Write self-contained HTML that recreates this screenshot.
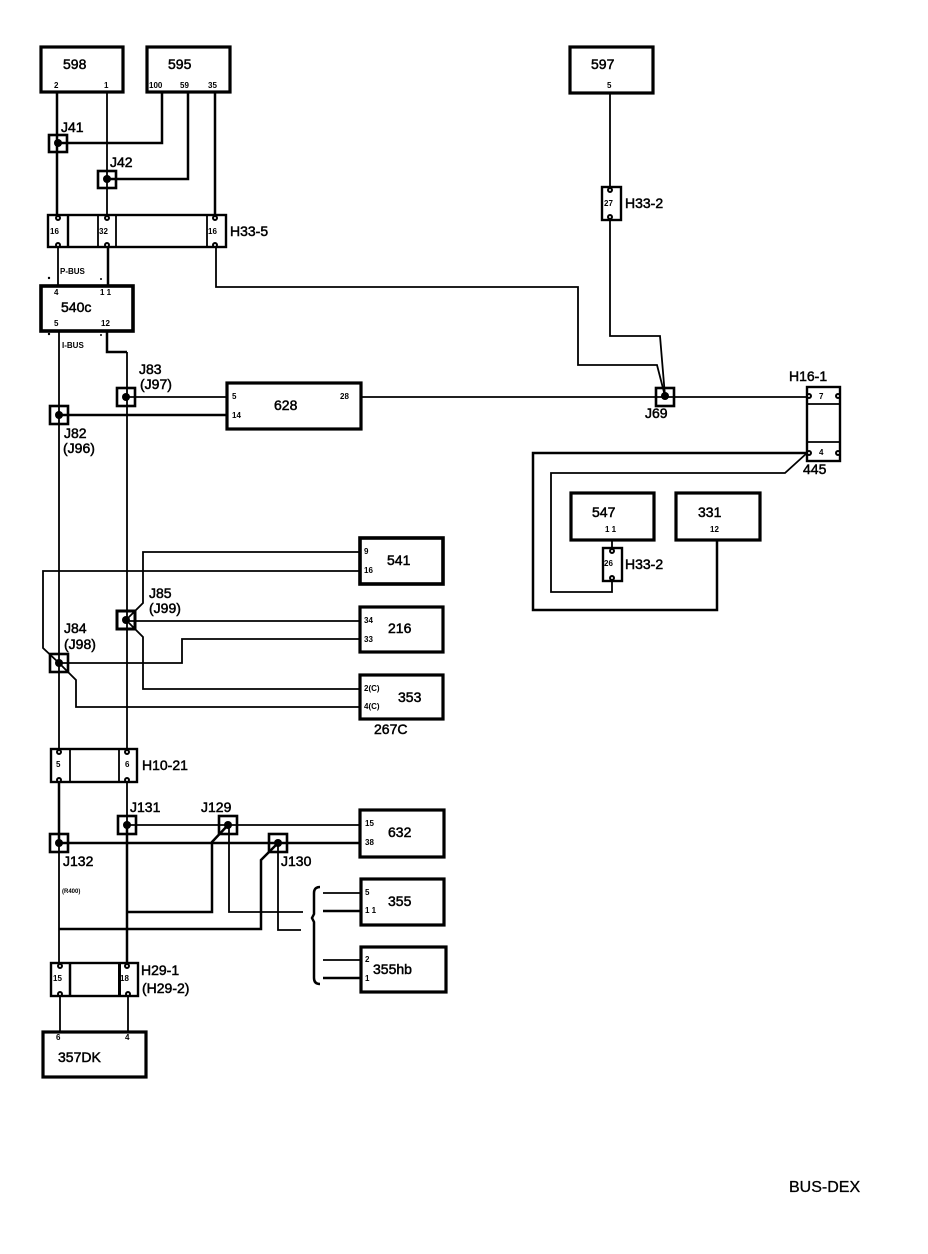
<!DOCTYPE html>
<html><head><meta charset="utf-8"><style>
html,body{margin:0;padding:0;background:#fff}
svg{display:block}
text{font-family:"Liberation Sans",sans-serif;fill:#000}
.l{font-size:14px;stroke:#000;stroke-width:.5}
.p{font-size:8px;font-weight:bold}
.b{fill:#fff;stroke:#000;stroke-width:3.2}
.c{fill:#fff;stroke:#000;stroke-width:2.4}
.w{fill:none;stroke:#000;stroke-width:1.8}
.t{fill:none;stroke:#000;stroke-width:2.5}
.j{fill:none;stroke:#000;stroke-width:2.6}
.o{fill:#fff;stroke:#000;stroke-width:2}
</style></head><body>
<svg width="928" height="1254" viewBox="0 0 928 1254" xmlns="http://www.w3.org/2000/svg">
<rect width="928" height="1254" fill="#fff"/>
<!-- wires -->
<g>
<path class="t" d="M57 92V215M215 92V215M162 92V143H58M188 92V179H107"/>
<path class="w" d="M107 92V215"/>
<path class="w" d="M58 247V286"/>
<path class="t" d="M108 247V286"/>
<path class="w" d="M216 247V287H578V365H657L665 396"/>
<path class="w" d="M59 331V749"/>
<path class="t" d="M107 331V352H127"/><path class="w" d="M127 352V749"/>
<path class="w" d="M126 397H227"/>
<path class="t" d="M59 415H227"/>
<path class="w" d="M361 397H807"/>
<path class="w" d="M360 552H143V603L126 620"/>
<path class="w" d="M360 571H43V648L59 663"/>
<path class="w" d="M126 621H360"/>
<path class="w" d="M360 639H182V663H59"/>
<path class="w" d="M126 620L143 637V689H360"/>
<path class="w" d="M59 663L76 680V707H360"/>
<path class="t" d="M59 782V843"/><path class="w" d="M59 843V964"/>
<path class="w" d="M127 782V825"/><path class="t" d="M127 825V964"/>
<path class="w" d="M127 825H360"/>
<path class="t" d="M59 843H360"/>
<path class="t" d="M228 825L212 842V912H127"/>
<path class="w" d="M229 825V912H303"/>
<path class="t" d="M278 843L261 860V929H59"/>
<path class="w" d="M278 843V930H301"/>
<path class="w" d="M323 893H361M323 960H361"/>
<path class="t" d="M323 911H361M323 978H361"/>
<path class="w" d="M60 996V1032M128 996V1032"/>
<path class="w" d="M610 93V187"/>
<path class="w" d="M610 220V336H660L665 396"/>
<path class="t" d="M807 453H533V610H717V540"/>
<path class="w" d="M807 453L785 473H551V592H612V581"/>
<path class="w" d="M612 540V548"/>
<path class="t" d="M320 887Q314 887 314 893V914L312 918L314 922V978Q314 984 320 984"/>
</g>
<!-- boxes -->
<rect class="b" x="41" y="47" width="82" height="45"/>
<rect class="b" x="147" y="47" width="83" height="45"/>
<rect class="b" x="570" y="47" width="83" height="46"/>
<rect class="b" x="41" y="286" width="92" height="45" style="stroke-width:3.6"/>
<rect class="b" x="227" y="383" width="134" height="46"/>
<rect class="b" x="360" y="538" width="83" height="46" style="stroke-width:3.6"/>
<rect class="b" x="360" y="607" width="83" height="45"/>
<rect class="b" x="360" y="675" width="83" height="44"/>
<rect class="b" x="360" y="810" width="84" height="47"/>
<rect class="b" x="361" y="879" width="83" height="46"/>
<rect class="b" x="361" y="947" width="85" height="45"/>
<rect class="b" x="43" y="1032" width="103" height="45"/>
<rect class="b" x="571" y="493" width="83" height="47"/>
<rect class="b" x="676" y="493" width="84" height="47"/>
<!-- connectors -->
<rect class="c" x="48" y="215" width="178" height="32"/>
<path class="t" d="M68 215V247" style="stroke-width:2.4"/><path class="w" d="M98 215V247M116 215V247M207 215V247"/>
<rect class="c" x="51" y="749" width="86" height="33"/>
<path class="w" d="M70 749V782M119 749V782"/>
<rect class="c" x="51" y="963" width="87" height="33"/>
<path class="t" d="M70 963V996"/><path class="t" d="M119.500 963V996" style="stroke-width:3"/>
<rect class="c" x="602" y="187" width="19" height="33"/>
<rect class="c" x="603" y="548" width="19" height="33"/>
<rect class="c" x="807" y="387" width="33" height="74"/>
<path class="w" d="M807 404H840M807 442H840"/>
<!-- terminals -->
<g>
<circle class="o" cx="58" cy="218" r="2"/><circle class="o" cx="107" cy="218" r="2"/><circle class="o" cx="215" cy="218" r="2"/>
<circle class="o" cx="58" cy="245" r="2"/><circle class="o" cx="107" cy="245" r="2"/><circle class="o" cx="215" cy="245" r="2"/>
<circle class="o" cx="59" cy="752" r="2"/><circle class="o" cx="127" cy="752" r="2"/>
<circle class="o" cx="59" cy="780" r="2"/><circle class="o" cx="127" cy="780" r="2"/>
<circle class="o" cx="60" cy="966" r="2"/><circle class="o" cx="127" cy="966" r="2"/>
<circle class="o" cx="60" cy="994" r="2"/><circle class="o" cx="128" cy="994" r="2"/>
<circle class="o" cx="610" cy="190" r="2"/><circle class="o" cx="610" cy="217" r="2"/>
<circle class="o" cx="612" cy="551" r="2"/><circle class="o" cx="612" cy="578" r="2"/>
<circle class="o" cx="809" cy="396" r="2"/><circle class="o" cx="838" cy="396" r="2"/>
<circle class="o" cx="809" cy="453" r="2"/><circle class="o" cx="838" cy="453" r="2"/>
</g>
<!-- junctions -->
<g>
<rect class="j" x="49" y="135" width="18" height="17"/><circle cx="58" cy="143" r="4"/>
<rect class="j" x="98" y="171" width="18" height="17"/><circle cx="107" cy="179" r="4"/>
<rect class="j" x="117" y="388" width="18" height="18"/><circle cx="126" cy="397" r="4"/>
<rect class="j" x="50" y="406" width="18" height="18"/><circle cx="59" cy="415" r="4"/>
<rect class="j" x="117" y="611" width="18" height="18" style="stroke-width:3"/><circle cx="126" cy="620" r="4"/>
<rect class="j" x="50" y="654" width="18" height="18"/><circle cx="59" cy="663" r="4"/>
<rect class="j" x="118" y="816" width="18" height="18"/><circle cx="127" cy="825" r="4"/>
<rect class="j" x="50" y="834" width="18" height="18"/><circle cx="59" cy="843" r="4"/>
<rect class="j" x="219" y="816" width="18" height="18"/><circle cx="228" cy="825" r="4"/>
<rect class="j" x="269" y="834" width="18" height="18"/><circle cx="278" cy="843" r="4"/>
<rect class="j" x="656" y="388" width="18" height="18"/><circle cx="665" cy="396" r="4"/>
<circle cx="49" cy="278" r="1.2"/><circle cx="101" cy="279" r="1"/><circle cx="49" cy="334" r="1.2"/><circle cx="101" cy="335" r="1"/>
</g>
<!-- labels -->
<text class="l" x="63" y="69">598</text>
<text class="l" x="168" y="69">595</text>
<text class="l" x="591" y="69">597</text>
<text class="l" x="61" y="132">J41</text>
<text class="l" x="110" y="167">J42</text>
<text class="l" x="230" y="236">H33-5</text>
<text class="l" x="61" y="312">540c</text>
<text class="l" x="139" y="374">J83</text>
<text class="l" x="140" y="389">(J97)</text>
<text class="l" x="64" y="438">J82</text>
<text class="l" x="63" y="453">(J96)</text>
<text class="l" x="274" y="410">628</text>
<text class="l" x="387" y="565">541</text>
<text class="l" x="388" y="633">216</text>
<text class="l" x="398" y="702">353</text>
<text class="l" x="374" y="734">267C</text>
<text class="l" x="149" y="598">J85</text>
<text class="l" x="149" y="613">(J99)</text>
<text class="l" x="64" y="633">J84</text>
<text class="l" x="64" y="649">(J98)</text>
<text class="l" x="142" y="770">H10-21</text>
<text class="l" x="130" y="812">J131</text>
<text class="l" x="201" y="812">J129</text>
<text class="l" x="63" y="866">J132</text>
<text class="l" x="281" y="866">J130</text>
<text class="l" x="388" y="837">632</text>
<text class="l" x="388" y="906">355</text>
<text class="l" x="373" y="974">355hb</text>
<text class="l" x="141" y="975">H29-1</text>
<text class="l" x="142" y="993">(H29-2)</text>
<text class="l" x="58" y="1062">357DK</text>
<text class="l" x="789" y="1192" style="font-size:16px;stroke-width:.3">BUS-DEX</text>
<text class="l" x="625" y="208">H33-2</text>
<text class="l" x="645" y="418">J69</text>
<text class="l" x="789" y="381">H16-1</text>
<text class="l" x="803" y="474">445</text>
<text class="l" x="592" y="517">547</text>
<text class="l" x="698" y="517">331</text>
<text class="l" x="625" y="569">H33-2</text>
<g class="p">
<text class="p" x="54" y="88">2</text><text class="p" x="104" y="88">1</text>
<text class="p" x="149" y="88">100</text><text class="p" x="180" y="88">59</text><text class="p" x="208" y="88">35</text>
<text class="p" x="607" y="88">5</text>
<text class="p" x="50" y="234">16</text><text class="p" x="99" y="234">32</text><text class="p" x="208" y="234">16</text>
<text class="p" x="60" y="274">P-BUS</text><text class="p" x="62" y="348">I-BUS</text>
<text class="p" x="54" y="295">4</text><text class="p" x="100" y="295">1 1</text>
<text class="p" x="54" y="326">5</text><text class="p" x="101" y="326">12</text>
<text class="p" x="232" y="399">5</text><text class="p" x="232" y="418">14</text><text class="p" x="340" y="399">28</text>
<text class="p" x="364" y="554">9</text><text class="p" x="364" y="573">16</text>
<text class="p" x="364" y="623">34</text><text class="p" x="364" y="642">33</text>
<text class="p" x="364" y="691">2(C)</text><text class="p" x="364" y="709">4(C)</text>
<text class="p" x="56" y="767">5</text><text class="p" x="125" y="767">6</text>
<text class="p" x="365" y="826">15</text><text class="p" x="365" y="845">38</text>
<text class="p" x="365" y="895">5</text><text class="p" x="365" y="913">1 1</text>
<text class="p" x="365" y="962">2</text><text class="p" x="365" y="981">1</text>
<text class="p" x="53" y="981">15</text><text class="p" x="120" y="981">18</text>
<text class="p" x="56" y="1040">6</text><text class="p" x="125" y="1040">4</text>
<text class="p" x="604" y="206">27</text><text class="p" x="604" y="566">26</text>
<text class="p" x="819" y="399">7</text><text class="p" x="819" y="455">4</text>
<text class="p" x="605" y="532">1 1</text><text class="p" x="710" y="532">12</text>
<text class="p" x="62" y="893" style="font-size:6px">(R400)</text>
</g>
</svg>
</body></html>
